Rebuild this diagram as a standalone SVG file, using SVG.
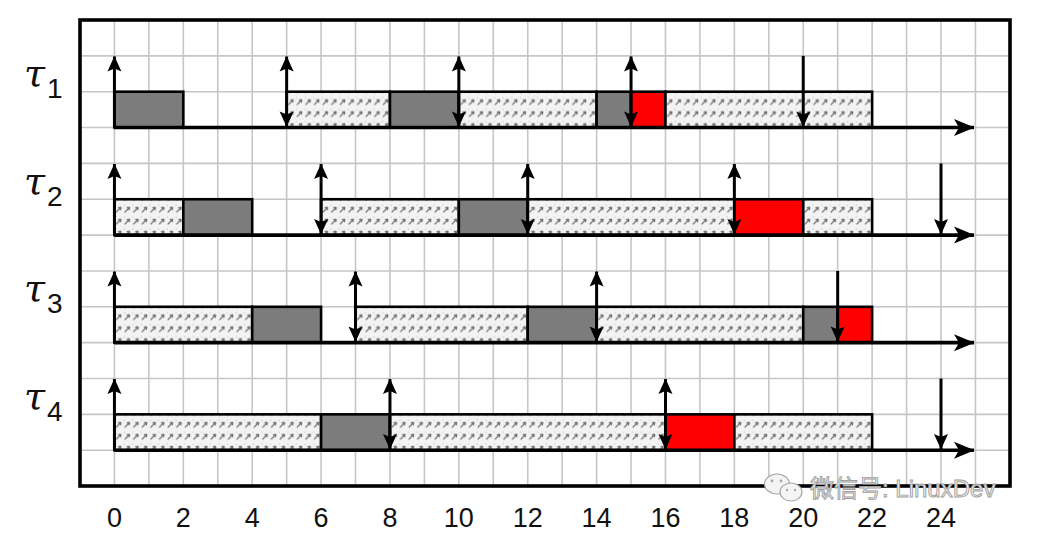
<svg xmlns="http://www.w3.org/2000/svg" width="1045" height="539" viewBox="0 0 1045 539">
<defs>
<pattern id="hatch" patternUnits="userSpaceOnUse" x="114.44" y="0" width="8.61" height="11.95">
<rect width="8.61" height="11.95" fill="#f3f3f3"/>
<path d="M1.6,9.4 L6.4,4.2" stroke="#707070" stroke-width="1.25"/>
<path d="M6.6,4 L3.6,4.6 M6.6,4 L6,7" stroke="#707070" stroke-width="1.25"/>
<circle cx="1.2" cy="2" r="0.6" fill="#b0b0b0"/>
</pattern>
<marker id="tip" markerUnits="userSpaceOnUse" viewBox="-17 -9 18 18" refX="0" refY="0" markerWidth="18" markerHeight="18" orient="auto-start-reverse">
<path d="M0.5,0 L-15,-7 L-12,0 L-15,7 Z" fill="#000"/>
</marker>
<marker id="axhead" markerUnits="userSpaceOnUse" viewBox="-21 -10 22 20" refX="0" refY="0" markerWidth="22" markerHeight="20" orient="auto">
<path d="M0.5,0 L-20,-8.5 L-15,0 L-20,8.5 Z" fill="#000"/>
</marker>
</defs>
<style>
.grid line{stroke:#c6c6c6;stroke-width:1.6}
.blk{stroke:#000;stroke-width:2.6}
.gray{fill:#7c7c7c}
.red{fill:#ff0000}
.hat{fill:url(#hatch)}
.axis{stroke:#000;stroke-width:3.6;marker-end:url(#axhead)}
.up{stroke:#000;stroke-width:3;marker-end:url(#tip)}
.dn{stroke:#000;stroke-width:3;marker-end:url(#tip)}
.dbl{stroke:#000;stroke-width:3;marker-start:url(#tip);marker-end:url(#tip)}
.tau{font-family:"DejaVu Serif",serif;font-style:italic;font-size:38px;fill:#111}
.sub{font-family:"Liberation Sans",sans-serif;font-size:28px;fill:#111}
.tick{font-family:"Liberation Sans",sans-serif;font-size:27px;fill:#111;text-anchor:middle}
.wm{font-family:"Liberation Sans","Noto Sans CJK SC",sans-serif;font-size:24px;fill:#f2f2f2;stroke:#a0a0a0;stroke-width:0.9}
</style>
<rect x="0" y="0" width="1045" height="539" fill="#fff"/>
<g class="grid" id="grid">
<line x1="114.44" y1="20" x2="114.44" y2="486"/>
<line x1="148.88" y1="20" x2="148.88" y2="486"/>
<line x1="183.32" y1="20" x2="183.32" y2="486"/>
<line x1="217.76" y1="20" x2="217.76" y2="486"/>
<line x1="252.2" y1="20" x2="252.2" y2="486"/>
<line x1="286.64" y1="20" x2="286.64" y2="486"/>
<line x1="321.08" y1="20" x2="321.08" y2="486"/>
<line x1="355.52" y1="20" x2="355.52" y2="486"/>
<line x1="389.96" y1="20" x2="389.96" y2="486"/>
<line x1="424.4" y1="20" x2="424.4" y2="486"/>
<line x1="458.84" y1="20" x2="458.84" y2="486"/>
<line x1="493.28" y1="20" x2="493.28" y2="486"/>
<line x1="527.72" y1="20" x2="527.72" y2="486"/>
<line x1="562.16" y1="20" x2="562.16" y2="486"/>
<line x1="596.6" y1="20" x2="596.6" y2="486"/>
<line x1="631.04" y1="20" x2="631.04" y2="486"/>
<line x1="665.48" y1="20" x2="665.48" y2="486"/>
<line x1="699.92" y1="20" x2="699.92" y2="486"/>
<line x1="734.36" y1="20" x2="734.36" y2="486"/>
<line x1="768.8" y1="20" x2="768.8" y2="486"/>
<line x1="803.24" y1="20" x2="803.24" y2="486"/>
<line x1="837.68" y1="20" x2="837.68" y2="486"/>
<line x1="872.12" y1="20" x2="872.12" y2="486"/>
<line x1="906.56" y1="20" x2="906.56" y2="486"/>
<line x1="941" y1="20" x2="941" y2="486"/>
<line x1="975.44" y1="20" x2="975.44" y2="486"/>
<line x1="80" y1="55.85" x2="1010" y2="55.85"/>
<line x1="80" y1="91.7" x2="1010" y2="91.7"/>
<line x1="80" y1="127.55" x2="1010" y2="127.55"/>
<line x1="80" y1="163.4" x2="1010" y2="163.4"/>
<line x1="80" y1="199.25" x2="1010" y2="199.25"/>
<line x1="80" y1="235.1" x2="1010" y2="235.1"/>
<line x1="80" y1="270.95" x2="1010" y2="270.95"/>
<line x1="80" y1="306.8" x2="1010" y2="306.8"/>
<line x1="80" y1="342.65" x2="1010" y2="342.65"/>
<line x1="80" y1="378.5" x2="1010" y2="378.5"/>
<line x1="80" y1="414.35" x2="1010" y2="414.35"/>
<line x1="80" y1="450.2" x2="1010" y2="450.2"/>
</g>
<rect id="frame" x="80" y="20" width="930" height="466" fill="none" stroke="#000" stroke-width="3.6"/>

<g id="task1">
<rect class="blk gray" x="114.44" y="91.7" width="68.88" height="35.85"/>
<rect class="blk hat" x="286.64" y="91.7" width="103.32" height="35.85"/>
<rect class="blk gray" x="389.96" y="91.7" width="68.88" height="35.85"/>
<rect class="blk hat" x="458.84" y="91.7" width="137.76" height="35.85"/>
<rect class="blk gray" x="596.6" y="91.7" width="34.44" height="35.85"/>
<rect class="blk red" x="631.04" y="91.7" width="34.44" height="35.85"/>
<rect class="blk hat" x="665.48" y="91.7" width="206.64" height="35.85"/>
<text x="24" y="86" class="tau">τ</text><text x="47" y="98" class="sub">1</text>
</g>
<g id="task2">
<rect class="blk hat" x="114.44" y="199.25" width="68.88" height="35.85"/>
<rect class="blk gray" x="183.32" y="199.25" width="68.88" height="35.85"/>
<rect class="blk hat" x="321.08" y="199.25" width="137.76" height="35.85"/>
<rect class="blk gray" x="458.84" y="199.25" width="68.88" height="35.85"/>
<rect class="blk hat" x="527.72" y="199.25" width="206.64" height="35.85"/>
<rect class="blk red" x="734.36" y="199.25" width="68.88" height="35.85"/>
<rect class="blk hat" x="803.24" y="199.25" width="68.88" height="35.85"/>
<text x="24" y="193.5" class="tau">τ</text><text x="47" y="205.5" class="sub">2</text>
</g>
<g id="task3">
<rect class="blk hat" x="114.44" y="306.8" width="137.76" height="35.85"/>
<rect class="blk gray" x="252.2" y="306.8" width="68.88" height="35.85"/>
<rect class="blk hat" x="355.52" y="306.8" width="172.2" height="35.85"/>
<rect class="blk gray" x="527.72" y="306.8" width="68.88" height="35.85"/>
<rect class="blk hat" x="596.6" y="306.8" width="206.64" height="35.85"/>
<rect class="blk gray" x="803.24" y="306.8" width="34.44" height="35.85"/>
<rect class="blk red" x="837.68" y="306.8" width="34.44" height="35.85"/>
<text x="24" y="301" class="tau">τ</text><text x="47" y="313" class="sub">3</text>
</g>
<g id="task4">
<rect class="blk hat" x="114.44" y="414.35" width="206.64" height="35.85"/>
<rect class="blk gray" x="321.08" y="414.35" width="68.88" height="35.85"/>
<rect class="blk hat" x="389.96" y="414.35" width="275.52" height="35.85"/>
<rect class="blk red" x="665.48" y="414.35" width="68.88" height="35.85"/>
<rect class="blk hat" x="734.36" y="414.35" width="137.76" height="35.85"/>
<text x="24" y="408.5" class="tau">τ</text><text x="47" y="420.5" class="sub">4</text>
</g>

<g id="connectors">
<line class="axis" x1="114.44" y1="127.55" x2="974" y2="127.55"/>
<line class="axis" x1="114.44" y1="235.1" x2="974" y2="235.1"/>
<line class="axis" x1="114.44" y1="342.65" x2="974" y2="342.65"/>
<line class="axis" x1="114.44" y1="450.2" x2="974" y2="450.2"/>

<line class="up" x1="114.44" y1="127.55" x2="114.44" y2="56.5"/>
<line class="dbl" x1="286.64" y1="56.5" x2="286.64" y2="126.5"/>
<line class="dbl" x1="458.84" y1="56.5" x2="458.84" y2="126.5"/>
<line class="dbl" x1="631.04" y1="56.5" x2="631.04" y2="126.5"/>
<line class="dn" x1="803.24" y1="55.85" x2="803.24" y2="126.5"/>

<line class="up" x1="114.44" y1="235.1" x2="114.44" y2="164"/>
<line class="dbl" x1="321.08" y1="164" x2="321.08" y2="234"/>
<line class="dbl" x1="527.72" y1="164" x2="527.72" y2="234"/>
<line class="dbl" x1="734.36" y1="164" x2="734.36" y2="234"/>
<line class="dn" x1="941" y1="163.4" x2="941" y2="234"/>

<line class="up" x1="114.44" y1="342.65" x2="114.44" y2="271.6"/>
<line class="dbl" x1="355.52" y1="271.6" x2="355.52" y2="341.6"/>
<line class="dbl" x1="596.6" y1="271.6" x2="596.6" y2="341.6"/>
<line class="dn" x1="837.68" y1="270.95" x2="837.68" y2="341.6"/>

<line class="up" x1="114.44" y1="450.2" x2="114.44" y2="379.1"/>
<line class="dbl" x1="389.96" y1="379.1" x2="389.96" y2="449.1"/>
<line class="dbl" x1="665.48" y1="379.1" x2="665.48" y2="449.1"/>
<line class="dn" x1="941" y1="378.5" x2="941" y2="449.1"/>
</g>

<g id="ticks">
<text class="tick" x="114.44" y="527">0</text>
<text class="tick" x="183.32" y="527">2</text>
<text class="tick" x="252.2" y="527">4</text>
<text class="tick" x="321.08" y="527">6</text>
<text class="tick" x="389.96" y="527">8</text>
<text class="tick" x="458.84" y="527">10</text>
<text class="tick" x="527.72" y="527">12</text>
<text class="tick" x="596.6" y="527">14</text>
<text class="tick" x="665.48" y="527">16</text>
<text class="tick" x="734.36" y="527">18</text>
<text class="tick" x="803.24" y="527">20</text>
<text class="tick" x="872.12" y="527">22</text>
<text class="tick" x="941" y="527">24</text>
</g>

<g id="watermark">
<ellipse cx="777" cy="484" rx="12.5" ry="10" fill="#f4f4f4" stroke="#a8a8a8" stroke-width="1.2"/>
<ellipse cx="791" cy="492" rx="11" ry="9" fill="#f4f4f4" stroke="#a8a8a8" stroke-width="1.2"/>
<circle cx="772" cy="481" r="1.4" fill="#a8a8a8"/>
<circle cx="781" cy="481" r="1.4" fill="#a8a8a8"/>
<circle cx="787" cy="490" r="1.2" fill="#a8a8a8"/>
<circle cx="795" cy="490" r="1.2" fill="#a8a8a8"/>
<text class="wm" x="810" y="497">微信号: LinuxDev</text>
</g>
</svg>
